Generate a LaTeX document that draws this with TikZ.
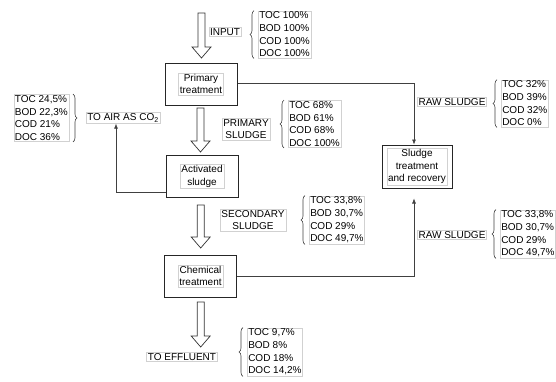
\documentclass[tikz,border=0pt]{standalone}
\usepackage{fontspec}
\setmainfont{Liberation Sans}
\usetikzlibrary{arrows.meta,decorations.pathreplacing,calc}

% hollow block arrow pointing down: x centre, top y, tip y
\newcommand\hollowdown[3]{%
  \draw[hollow] ({#1-3.5},#2) -- ({#1+3.5},#2) -- ({#1+3.5},{#3-11})
    -- ({#1+9.5},{#3-11}) -- (#1,#3) -- ({#1-9.5},{#3-11})
    -- ({#1-3.5},{#3-11}) -- cycle;}

\begin{document}
\begin{tikzpicture}[x=1pt,y=-1pt,
  every node/.style={font=\fontsize{10}{12.7}\selectfont},
  tag/.style={draw=black!18, line width=0.5pt, inner sep=1.2pt, align=center},
  values/.style={tag, align=left, inner sep=1pt},
  unit/.style={draw=black!85, line width=1pt, minimum width=72pt,
    minimum height=42pt, inner sep=0pt},
  link/.style={draw=black!75, line width=0.6pt},
  tip/.style={-{Latex[length=5pt,width=4pt]}},
  hollow/.style={draw=black!80, line width=0.7pt, fill=white},
  curly/.style={draw=black!75, line width=0.6pt, decorate,
    decoration={brace, amplitude=4pt}}
]
\useasboundingbox (0,0) rectangle (556,381);

% process units
\node[unit] (prim) at (201,84) {};
\node[tag] (primtxt) at (prim) {Primary\\treatment};
\node[unit] (act) at (202,176.5) {};
\node[tag] (acttxt) at (act) {Activated\\sludge};
\node[unit] (chem) at (200.5,276) {};
\node[tag] (chemtxt) at (chem) {Chemical\\treatment};
\node[unit, minimum width=70pt, minimum height=43pt] (sludge) at (417,166.5) {};
\node[tag] (sludgetxt) at (sludge) {Sludge\\treatment\\and recovery};

% main line hollow arrows
\hollowdown{201.5}{13}{58}
\hollowdown{200.5}{108}{152}
\hollowdown{200.7}{205}{248}
\hollowdown{200.7}{302}{347}

% input
\node[tag] (input) at (225,32) {INPUT};
\node[values, anchor=west] (inlist) at (258,34.5) {TOC 100\%\\BOD 100\%\\COD 100\%\\DOC 100\%};
\draw[curly] ([xshift=-4pt]inlist.south west) -- ([xshift=-4pt]inlist.north west);

% to air
\node[tag] (air) at (123,118) {TO AIR AS CO\textsubscript{2}};
\node[values, anchor=east] (airlist) at (69,118) {TOC 24,5\%\\BOD 22,3\%\\COD 21\%\\DOC 36\%};
\draw[curly] ([xshift=4pt]airlist.north east) -- ([xshift=4pt]airlist.south east);
\draw[link,tip] ([yshift=6pt]act.south west) -| ([xshift=-7pt]air.south);

% primary sludge
\node[tag] (prsl) at (246,129) {PRIMARY\\SLUDGE};
\node[values, anchor=west] (prlist) at (288,124) {TOC 68\%\\BOD 61\%\\COD 68\%\\DOC 100\%};
\draw[curly] ([xshift=-4pt]prlist.south west) -- ([xshift=-4pt]prlist.north west);

% raw sludge from primary treatment
\draw[link,tip] ([yshift=1pt]prim.east) -| ([xshift=-3pt]sludge.north);
\node[tag] (raw1) at (452,102) {RAW SLUDGE};
\node[values, anchor=west] (rawlist1) at (501,103.5) {TOC 32\%\\BOD 39\%\\COD 32\%\\DOC 0\%};
\draw[curly] ([xshift=-4pt]rawlist1.south west) -- ([xshift=-4pt]rawlist1.north west);

% secondary sludge
\node[tag] (secsl) at (253,220) {SECONDARY\\SLUDGE};
\node[values, anchor=west] (seclist) at (309,220) {TOC 33,8\%\\BOD 30,7\%\\COD 29\%\\DOC 49,7\%};
\draw[curly] ([xshift=-4pt]seclist.south west) -- ([xshift=-4pt]seclist.north west);

% raw sludge from chemical treatment
\draw[link,tip,shorten >=10pt] (chem.east) -| ([xshift=-3pt]sludge.south);
\node[tag] (raw2) at (452,235) {RAW SLUDGE};
\node[values, anchor=west] (rawlist2) at (500,234) {TOC 33,8\%\\BOD 30,7\%\\COD 29\%\\DOC 49,7\%};
\draw[curly] ([xshift=-4pt]rawlist2.south west) -- ([xshift=-4pt]rawlist2.north west);

% effluent
\node[tag] (eff) at (182,357) {TO EFFLUENT};
\node[values, anchor=west] (efflist) at (247,352) {TOC 9,7\%\\BOD 8\%\\COD 18\%\\DOC 14,2\%};
\draw[curly] ([xshift=-4pt]efflist.south west) -- ([xshift=-4pt]efflist.north west);
\end{tikzpicture}
\end{document}
